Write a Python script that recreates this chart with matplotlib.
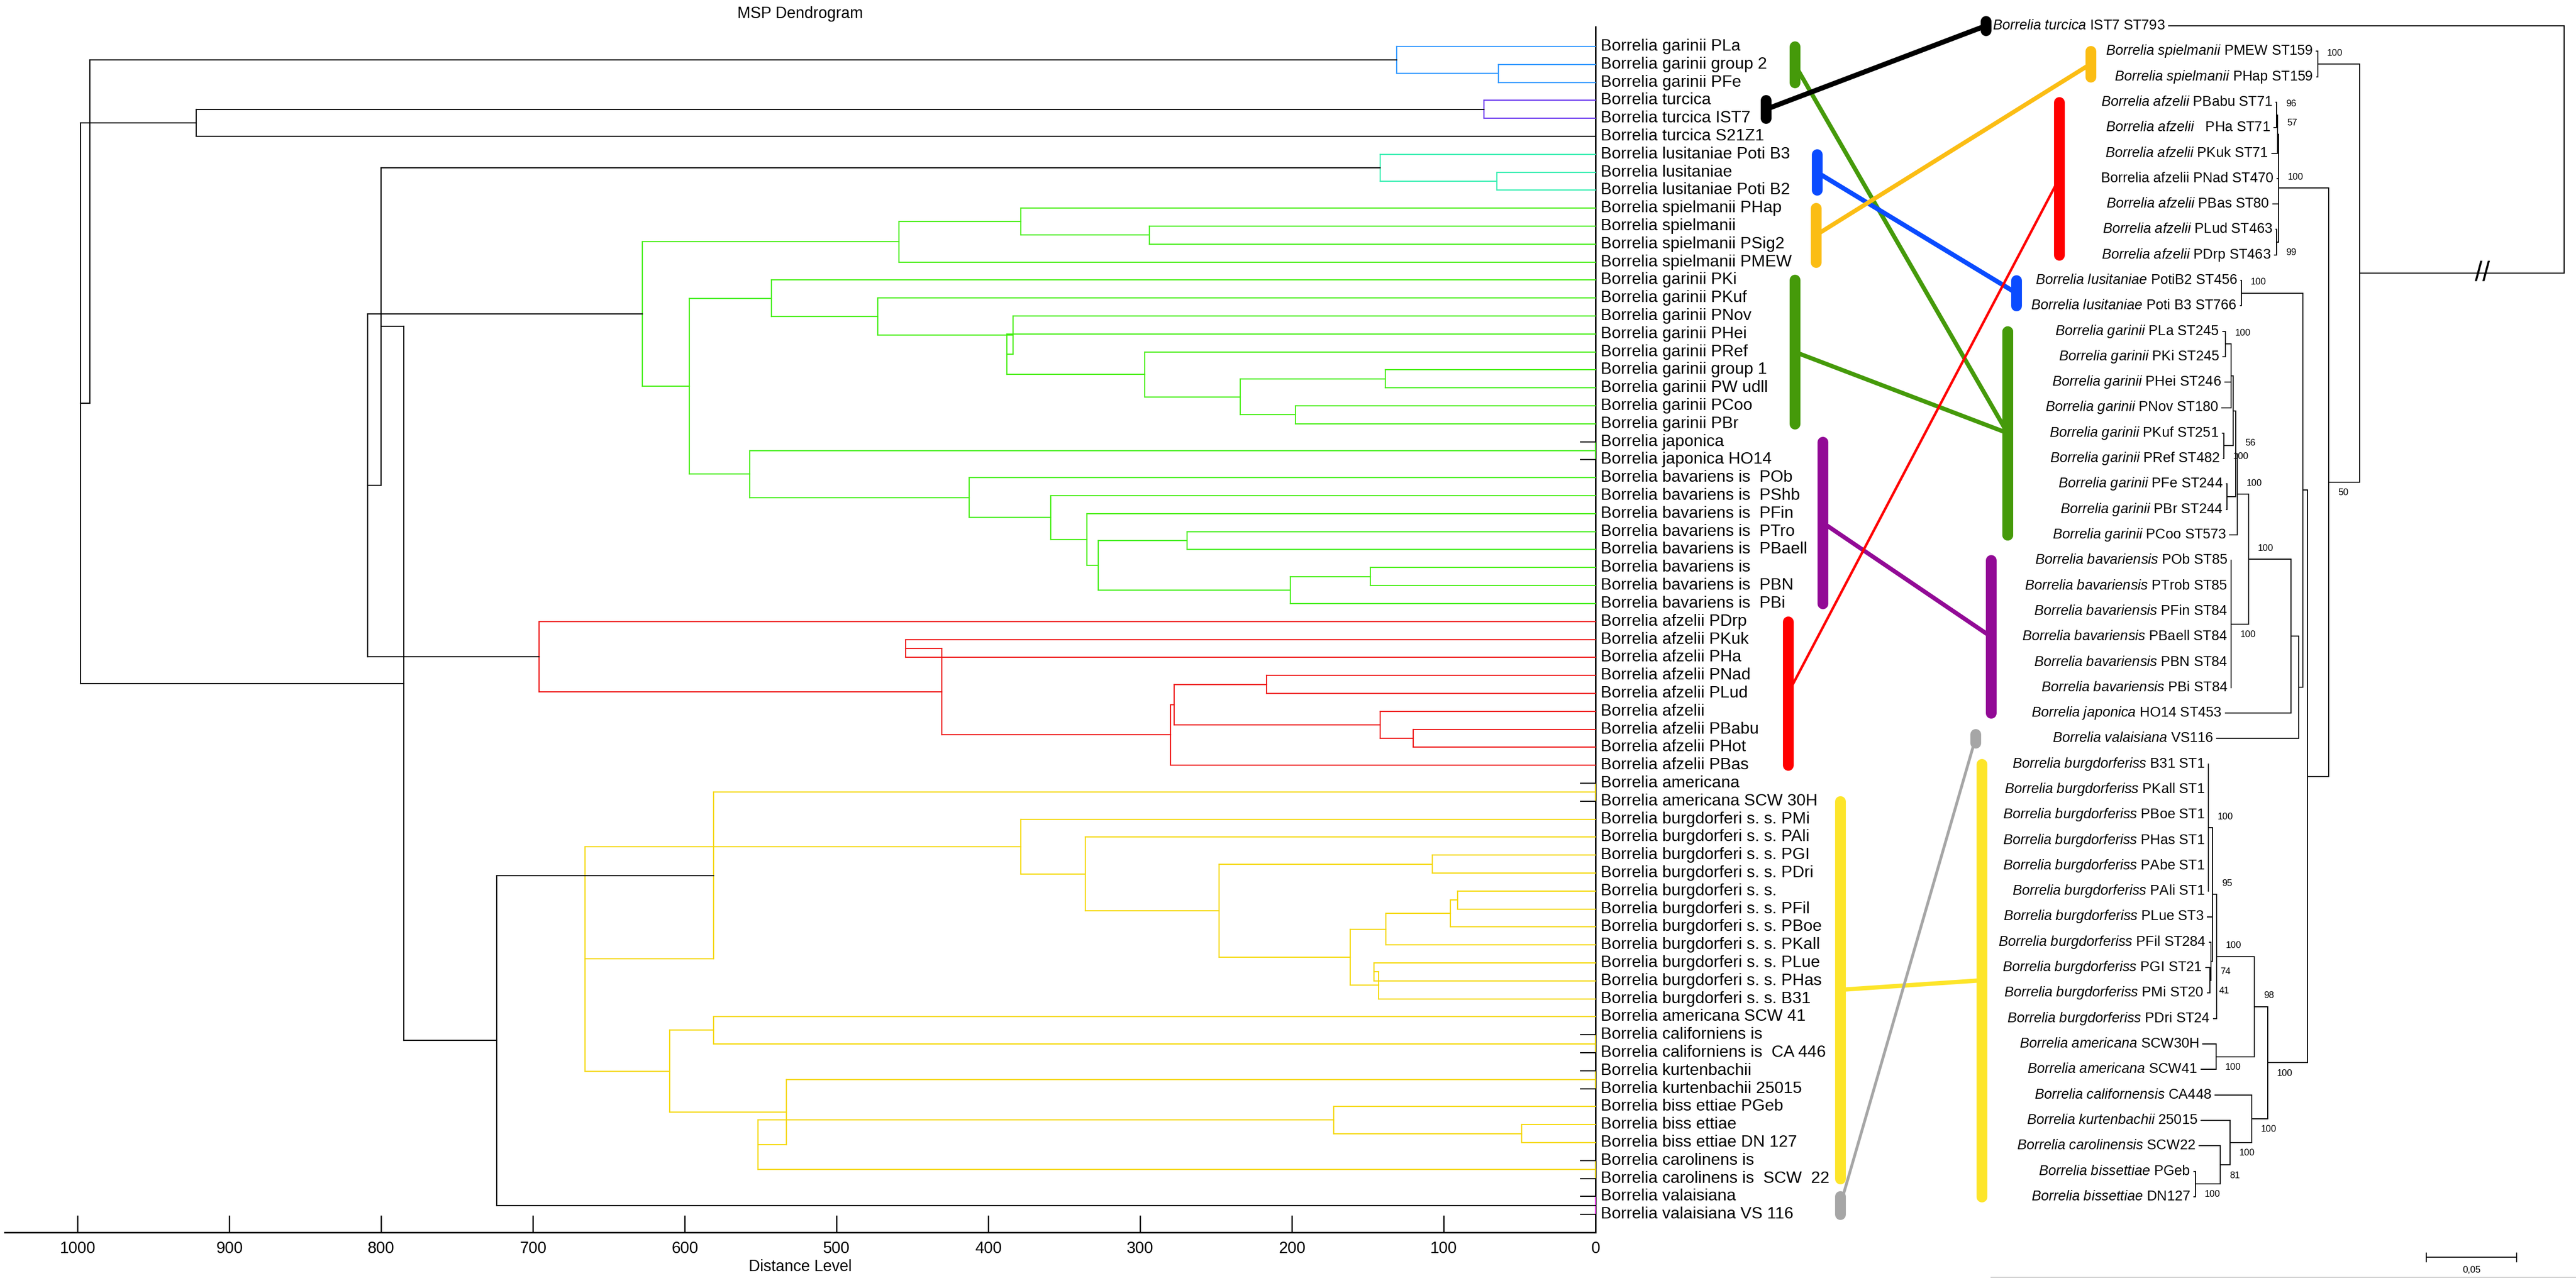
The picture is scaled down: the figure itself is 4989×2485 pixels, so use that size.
import matplotlib
matplotlib.use("Agg")
import matplotlib.pyplot as plt
from matplotlib.lines import Line2D
from matplotlib.patches import ConnectionPatch
from matplotlib.transforms import blended_transform_factory as blend

plt.rcParams["font.family"] = "Liberation Sans"
plt.rcParams["mathtext.fontset"] = "custom"
plt.rcParams["mathtext.rm"] = "Liberation Sans"
plt.rcParams["mathtext.it"] = "Liberation Sans:italic"

# ---------------- MSP dendrogram (left) ----------------
msp_labels = [
    "Borrelia garinii PLa", "Borrelia garinii group 2", "Borrelia garinii PFe",
    "Borrelia turcica", "Borrelia turcica IST7", "Borrelia turcica S21Z1",
    "Borrelia lusitaniae Poti B3", "Borrelia lusitaniae", "Borrelia lusitaniae Poti B2",
    "Borrelia spielmanii PHap", "Borrelia spielmanii", "Borrelia spielmanii PSig2",
    "Borrelia spielmanii PMEW",
    "Borrelia garinii PKi", "Borrelia garinii PKuf", "Borrelia garinii PNov",
    "Borrelia garinii PHei", "Borrelia garinii PRef", "Borrelia garinii group 1",
    "Borrelia garinii PW udll", "Borrelia garinii PCoo", "Borrelia garinii PBr",
    "Borrelia japonica", "Borrelia japonica HO14",
    "Borrelia bavariens is  POb", "Borrelia bavariens is  PShb", "Borrelia bavariens is  PFin",
    "Borrelia bavariens is  PTro", "Borrelia bavariens is  PBaell", "Borrelia bavariens is",
    "Borrelia bavariens is  PBN", "Borrelia bavariens is  PBi",
    "Borrelia afzelii PDrp", "Borrelia afzelii PKuk", "Borrelia afzelii PHa",
    "Borrelia afzelii PNad", "Borrelia afzelii PLud", "Borrelia afzelii",
    "Borrelia afzelii PBabu", "Borrelia afzelii PHot", "Borrelia afzelii PBas",
    "Borrelia americana", "Borrelia americana SCW 30H",
    "Borrelia burgdorferi s. s. PMi", "Borrelia burgdorferi s. s. PAli",
    "Borrelia burgdorferi s. s. PGI", "Borrelia burgdorferi s. s. PDri",
    "Borrelia burgdorferi s. s.", "Borrelia burgdorferi s. s. PFil",
    "Borrelia burgdorferi s. s. PBoe", "Borrelia burgdorferi s. s. PKall",
    "Borrelia burgdorferi s. s. PLue", "Borrelia burgdorferi s. s. PHas",
    "Borrelia burgdorferi s. s. B31",
    "Borrelia americana SCW 41", "Borrelia californiens is", "Borrelia californiens is  CA 446",
    "Borrelia kurtenbachii", "Borrelia kurtenbachii 25015",
    "Borrelia biss ettiae PGeb", "Borrelia biss ettiae", "Borrelia biss ettiae DN 127",
    "Borrelia carolinens is", "Borrelia carolinens is  SCW  22",
    "Borrelia valaisiana", "Borrelia valaisiana VS 116",
]

# merges as (distance level, child, child); ints are rows of msp_labels
msp_clusters = {
    "blue": (131, 0, (63.9, 1, 2)),
    "purple": (73.5, 3, 4),
    "cyan": (142, 6, (65, 7, 8)),
    "green": (627.8,
              (459, (378.5, 9, (294, 10, 11)), 12),
              (597,
               (543, 13, (472.7, 14, (383.7, 15, (387.8, 16, (297, 17, (234, (138.5, 18, 19), (197.6, 20, 21))))))),
               (557, (0, 22, 23),
                (412.5, 24, (359, 25, (335, 26, (327.5, (269, 27, 28), (201, (148.4, 29, 30), 31)))))))),
    "red": (696, 32, (430.6, (454.6, 33, 34),
                      (280, (277.7, (216.8, 35, 36), (142, 37, (120, 38, 39))), 40))),
    "yellow": (581, (0, 41, 42),
               (665.8,
                (378.5, 43, (336, 44, (248, (107.5, 45, 46),
                                       (161.7, (138, (95.6, (90.8, 47, 48), 49), 50),
                                        (143, (146, 51, 52), 53))))),
                (610, (581, 54, (0, 55, 56)),
                 (533, (0, 57, 58), (551.7, (172.5, 59, (48.7, 60, 61)), (0, 62, 63)))))),
    "magenta": (0, 64, 65),
}
# strings refer to the coloured clusters above
msp_top = (992, "blue",
           (998, (921.7, "purple", 5),
            (785, (800, "cyan", (809, "green", "red")),
             (724, "yellow", "magenta"))))

# ---------------- MLST tree (right) ----------------
mlst_species = [
    "Borrelia turcica", "Borrelia spielmanii", "Borrelia spielmanii",
    "Borrelia afzelii", "Borrelia afzelii", "Borrelia afzelii", "",
    "Borrelia afzelii", "Borrelia afzelii", "Borrelia afzelii",
    "Borrelia lusitaniae", "Borrelia lusitaniae",
    "Borrelia garinii", "Borrelia garinii", "Borrelia garinii", "Borrelia garinii",
    "Borrelia garinii", "Borrelia garinii", "Borrelia garinii", "Borrelia garinii",
    "Borrelia garinii",
    "Borrelia bavariensis", "Borrelia bavariensis", "Borrelia bavariensis",
    "Borrelia bavariensis", "Borrelia bavariensis", "Borrelia bavariensis",
    "Borrelia japonica", "Borrelia valaisiana",
    "Borrelia burgdorferiss", "Borrelia burgdorferiss", "Borrelia burgdorferiss",
    "Borrelia burgdorferiss", "Borrelia burgdorferiss", "Borrelia burgdorferiss",
    "Borrelia burgdorferiss", "Borrelia burgdorferiss", "Borrelia burgdorferiss",
    "Borrelia burgdorferiss", "Borrelia burgdorferiss",
    "Borrelia americana", "Borrelia americana", "Borrelia californensis",
    "Borrelia kurtenbachii", "Borrelia carolinensis", "Borrelia bissettiae",
    "Borrelia bissettiae",
]
mlst_strains = [
    "IST7 ST793", "PMEW ST159", "PHap ST159",
    "PBabu ST71", "  PHa ST71", "PKuk ST71", "Borrelia afzelii PNad ST470",
    "PBas ST80", "PLud ST463", "PDrp ST463",
    "PotiB2 ST456", "Poti B3 ST766",
    "PLa ST245", "PKi ST245", "PHei ST246", "PNov ST180", "PKuf ST251",
    "PRef ST482", "PFe ST244", "PBr ST244", "PCoo ST573",
    "POb ST85", "PTrob ST85", "PFin ST84", "PBaell ST84", "PBN ST84", "PBi ST84",
    "HO14 ST453", "VS116",
    "B31 ST1", "PKall ST1", "PBoe ST1", "PHas ST1", "PAbe ST1", "PAli ST1",
    "PLue ST3", "PFil ST284", "PGI ST21", "PMi ST20", "PDri ST24",
    "SCW30H", "SCW41", "CA448", "25015", "SCW22", "PGeb", "DN127",
]
# distance of every tip from the root (substitutions/site, as drawn)
mlst_depth = [
    0.2189, 0.1371, 0.1369,
    0.1594, 0.1606, 0.1617, 0.1589, 0.1611, 0.1594, 0.1603,
    0.1789, 0.1791,
    0.1889, 0.1889, 0.1877, 0.1894, 0.1891, 0.1886, 0.1869, 0.1869, 0.1851,
    0.1843, 0.1843, 0.1843, 0.1843, 0.1843, 0.1843,
    0.1874, 0.1923,
    0.1969, 0.1969, 0.1969, 0.1969, 0.1969, 0.1969,
    0.1974, 0.1963, 0.1983, 0.1974, 0.1940,
    0.2000, 0.2009, 0.1931, 0.2009, 0.2020, 0.2049, 0.2049,
]
# internal nodes: (distance from root, bootstrap, children)
afz = (0.1580, 100, [(0.1586, 57, [(0.1591, 96, [3, 4]), 5]), 6, 7, (0.1590, 99, [8, 9])])
gar = (0.1809, 100, [(0.1817, 56, [(0.1831, None, [(0.1843, None, [(0.1874, 100, [12, 13]), 14, 15]),
                                                  (0.1883, 100, [16, 17])]),
                                   (0.1866, None, [18, 19])]), 20])
bav = (0.1843, 100, [21, 22, 23, 24, 25, 26])
burg = (0.1923, 100, [(0.1946, 95, [(0.1969, 100, [29, 30, 31, 32, 33, 34]), 35,
                                    (0.1954, 74, [36, (0.1960, 41, [37, 38])])]), 39])
lyme = (0.1640, 100, [(0.1714, 98, [burg, (0.1926, 100, [40, 41])]),
                      (0.1729, 100, [42, (0.1849, 100, [43, (0.1903, 81, [44, (0.2040, 100, [45, 46])])])])])
eurasia = (0.1446, None, [(0.1786, 100, [10, 11]),
                          (0.1469, None, [(0.1511, None, [(0.1746, 100, [gar, bav]), 27]), 28])])
main = (0.1131, None, [(0.1363, 100, [1, 2]),
                       (0.1303, 50, [afz, (0.1420, None, [eurasia, lyme])])])
mlst_root = (0.0, None, [0, main])

# link between the two trees: (MSP rows, MLST tips)
link_names = ["green", "black", "blue", "orange", "green", "purple", "red", "yellow", "grey"]
msp_spans = [(0, 2), (3, 4), (6, 8), (9, 12), (13, 21), (22, 31), (32, 40), (42, 63), (64, 65)]
mlst_spans = [(12, 20), (0, 0), (10, 11), (1, 2), (12, 20), (21, 27), (3, 9), (29, 46), (28, 28)]

# ---------------- style ----------------
W, H = 4989, 2485
cluster_colours = {"blue": "#3399ff", "purple": "#6633ee", "cyan": "#33eeb0", "green": "#44ee11",
                   "red": "#ee1111", "yellow": "#f5d800", "magenta": "#ff33ff"}
link_colours = {"green": "#459a0a", "black": "#000000", "blue": "#0a4bff", "orange": "#fbbd14",
                "purple": "#920a96", "red": "#ff0000", "yellow": "#fde52a", "grey": "#a6a6a6"}
msp_bar_x = [3476, 3420, 3519, 3517, 3476, 3530, 3463, 3564, 3564]
mlst_bar_x = [3888, 3846, 3905, 4049, 3888, 3856, 3988, 3838, 3826]
link_lw = [6, 7, 6.5, 6, 6, 6, 3.5, 6, 4]

fig = plt.figure(figsize=(W / 100, H / 100), dpi=100)
ax = fig.add_axes([9 / W, 98 / H, 3081 / W, 2335 / H])
axr = fig.add_axes([3700 / W, 0, 1289 / W, 1])

TREE_LW = 1.6


def draw_msp(node, colour):
    if isinstance(node, int):
        return 0.0, float(node)
    if isinstance(node, str):
        return draw_msp(msp_clusters[node], cluster_colours[node])
    level, *kids = node
    pts = [draw_msp(k, colour) for k in kids]
    ys = [p[1] for p in pts]
    ax.plot([level, level], [min(ys), max(ys)], color=colour, lw=TREE_LW,
            clip_on=False, zorder=3, solid_capstyle="projecting")
    for (x, y), k in zip(pts, kids):
        if level > 0:
            ax.plot([level, x], [y, y], color=colour, lw=TREE_LW, clip_on=False, zorder=3)
        elif isinstance(k, int):
            ax.plot([0, 10], [y, y], color="black", lw=TREE_LW, clip_on=False, zorder=3)
    return level, (ys[0] + ys[-1]) / 2


draw_msp(msp_top, "black")

for i, lab in enumerate(msp_labels):
    ax.annotate(lab, (0, i), xytext=(7, 0), textcoords="offset points",
                ha="left", va="center", fontsize=23)

ax.set_xlim(1048, 0)
ax.set_ylim(66.0, -1.092)
for s in ["left", "top"]:
    ax.spines[s].set_visible(False)
ax.spines["bottom"].set_linewidth(2.2)
ax.spines["right"].set_linewidth(2.2)
ax.set_yticks([])
ax.set_xticks(range(0, 1001, 100))
ax.tick_params(axis="x", direction="in", length=24, width=1.8, pad=12, labelsize=22.5)
ax.set_xlabel("Distance Level", fontsize=22, labelpad=4)
ax.set_title("MSP Dendrogram", fontsize=22, pad=12)


def draw_mlst(node, first=True):
    if isinstance(node, int):
        return mlst_depth[node], float(node)
    depth, boot, kids = node
    pts = [draw_mlst(k, j == 0) for j, k in enumerate(kids)]
    ys = [p[1] for p in pts]
    axr.plot([depth, depth], [min(ys), max(ys)], color="black", lw=1.4,
             solid_capstyle="projecting", clip_on=False)
    for x, y in pts:
        axr.plot([depth, x], [y, y], color="black", lw=1.4, clip_on=False)
    y0 = (ys[0] + ys[-1]) / 2
    if boot is not None:
        axr.annotate(str(boot), (depth, y0), xytext=(13, 15 if first else -15),
                     textcoords="offset points", ha="left", va="center", fontsize=13)
    return depth, y0


draw_mlst(mlst_root)
main_depth, main_y = main[0], None
# y of the main node: redo quick layout to place the break sign
def node_y(node):
    if isinstance(node, int):
        return float(node)
    ys = [node_y(k) for k in node[2]]
    return (ys[0] + ys[-1]) / 2


axr.text(main_depth * 0.4, node_y(main), "//", fontsize=38, ha="center", va="center")

for i, (sp, st) in enumerate(zip(mlst_species, mlst_strains)):
    txt = (r"$\mathit{" + sp.replace(" ", r"\ ") + "}$ " + st) if sp else st
    axr.annotate(txt, (mlst_depth[i], i), xytext=(-5, 0), textcoords="offset points",
                 ha="right", va="center", fontsize=19.5)

# scale bar 0.05
sb_y = 48.38
axr.plot([0.0763, 0.0263], [sb_y, sb_y], color="black", lw=1.4)
for xe in (0.0763, 0.0263):
    axr.plot([xe, xe], [sb_y - 0.17, sb_y + 0.17], color="black", lw=1.4)
axr.text(0.0513, sb_y + 0.5, "0,05", fontsize=13, ha="center", va="center")

axr.set_xlim(0.3617, -0.00657)
axr.set_ylim((H - 50) / 49.3, -50 / 49.3)
axr.axis("off")

fig.add_artist(Line2D([3856 / W, 1], [(H - 2474) / H] * 2, transform=fig.transFigure,
                      color="#c0c0c0", lw=1.2))

# coloured bars and links between the trees
tl = blend(fig.transFigure, ax.transData)
tr = blend(fig.transFigure, axr.transData)
for name, (a0, a1), (b0, b1), xl, xr, lw in zip(link_names, msp_spans, mlst_spans,
                                                 msp_bar_x, mlst_bar_x, link_lw):
    c = link_colours[name]
    ext_a = 0.18 if a0 == a1 else 0
    ext_b = 0.18 if b0 == b1 else 0
    fig.add_artist(Line2D([xl / W] * 2, [a0 - ext_a, a1 + ext_a], transform=tl, color=c,
                          lw=15, solid_capstyle="round"))
    fig.add_artist(Line2D([xr / W] * 2, [b0 - ext_b, b1 + ext_b], transform=tr, color=c,
                          lw=15, solid_capstyle="round"))
    con = ConnectionPatch(xyA=(xl / W, (a0 + a1) / 2), coordsA=tl,
                          xyB=(xr / W, (b0 + b1) / 2), coordsB=tr,
                          color=c, lw=lw, shrinkA=0, shrinkB=0)
    fig.add_artist(con)

fig.savefig("out.png", dpi=100)
